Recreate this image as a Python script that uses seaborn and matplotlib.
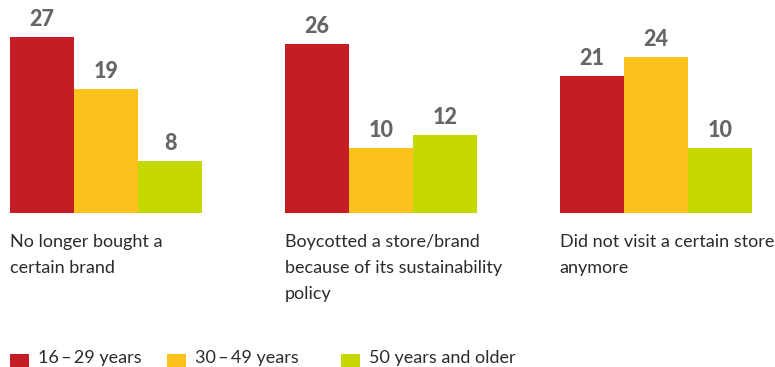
import matplotlib
matplotlib.use("Agg")
import matplotlib.pyplot as plt
import matplotlib.transforms as mtransforms
from matplotlib.patches import Rectangle
import seaborn as sns
import pandas as pd

categories = ["No longer bought a\ncertain brand",
              "Boycotted a store/brand\nbecause of its sustainability\npolicy",
              "Did not visit a certain store\nanymore"]
age_groups = ["16\u2009–\u200929 years", "30\u2009–\u200949 years", "50 years and older"]
values_16_29 = [27, 26, 21]
values_30_49 = [19, 10, 24]
values_50_plus = [8, 12, 10]
colors = ["#C41E24", "#FCC21C", "#C5D900"]

rows = []
for series, vals in zip(age_groups, [values_16_29, values_30_49, values_50_plus]):
    for c, v in zip(categories, vals):
        rows.append({"category": c, "age": series, "value": v})
df = pd.DataFrame(rows)

sns.set_style("white")
plt.rcParams["font.family"] = ["Lato", "DejaVu Sans"]

fig = plt.figure(figsize=(7.75, 3.67), dpi=100)
ax = fig.add_axes([10/775, 154/367, 742/775, 176/367])

sns.barplot(data=df, x="category", y="value", hue="age", order=categories,
            hue_order=age_groups, palette=colors, width=0.7, gap=0,
            saturation=1, ax=ax, legend=False, linewidth=0, edgecolor="none")

ax.set_xlim(-0.35, 2.35)
ax.set_ylim(0, 27)
for cont in ax.containers:
    ax.bar_label(cont, padding=5, fontsize=15.5, fontweight="black",
                 color="#666666", clip_on=False)

ax.set_xticks([])
ax.set_yticks([])
ax.set_xlabel("")
ax.set_ylabel("")
sns.despine(ax=ax, left=True, bottom=True, top=True, right=True)

trans = mtransforms.blended_transform_factory(ax.transData, fig.transFigure)
for i, c in enumerate(categories):
    ax.text(i - 0.35, 1 - 234/367, c, transform=trans, ha="left", va="top",
            fontsize=13, color="#2b2b2b", linespacing=1.75)

# legend: colour squares with labels along the bottom edge
legend_x = [10, 167, 341]
for x0, lab, col in zip(legend_x, age_groups, colors):
    fig.patches.append(Rectangle((x0/775, -6/367), 19/775, 19/367,
                                 transform=fig.transFigure, facecolor=col,
                                 edgecolor="none"))
    fig.text((x0 + 28)/775, 1/367, lab, ha="left", va="bottom",
             fontsize=13, color="#2b2b2b")

fig.savefig("out.png", dpi=100)
